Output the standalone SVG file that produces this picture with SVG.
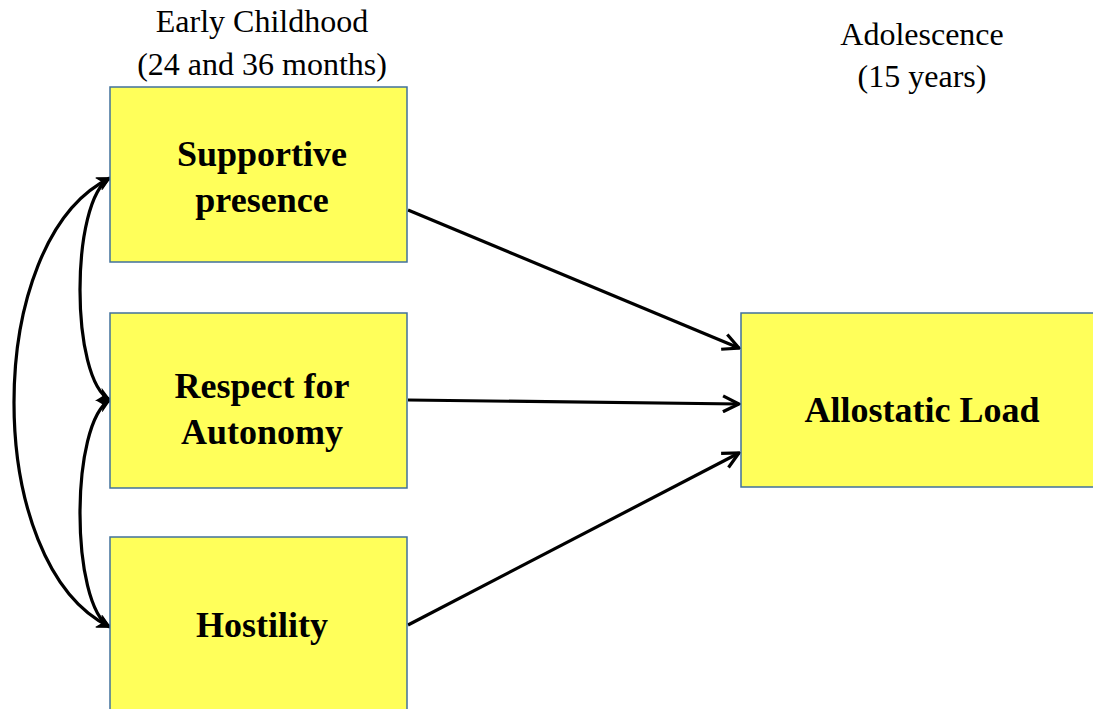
<svg xmlns="http://www.w3.org/2000/svg" width="1093" height="709" viewBox="0 0 1093 709">
<style>
.box{fill:#FFFF5A;stroke:#41719C;stroke-width:1.5}
.lbl{font-family:"Liberation Serif",serif;font-weight:bold;font-size:36px;fill:#000;text-anchor:middle}
.hdr{font-family:"Liberation Serif",serif;font-size:32px;fill:#000;text-anchor:middle}
.ln{fill:none;stroke:#000;stroke-width:3.2}
</style>
<defs>
<marker id="open" viewBox="0 0 12 12" refX="11" refY="6" markerWidth="6" markerHeight="6" orient="auto" markerUnits="strokeWidth">
<path d="M1,1 L11,6 L1,11" fill="none" stroke="#000" stroke-width="2"/>
</marker>
<marker id="solid" viewBox="0 0 10 10" refX="9" refY="5" markerWidth="4.5" markerHeight="4.5" orient="auto-start-reverse" markerUnits="strokeWidth">
<path d="M0,0 L10,5 L0,10 L3,5 Z" fill="#000"/>
</marker>
</defs>
<rect width="1093" height="709" fill="#fff"/>
<text class="hdr" x="262" y="32">Early Childhood</text>
<text class="hdr" x="262" y="75">(24 and 36 months)</text>
<text class="hdr" x="922" y="45">Adolescence</text>
<text class="hdr" x="922" y="87">(15 years)</text>
<g id="connectors">
<path class="ln" d="M408,210 L739,348" marker-end="url(#open)"/>
<path class="ln" d="M408,400 L739,404" marker-end="url(#open)"/>
<path class="ln" d="M408,625 L739,453" marker-end="url(#open)"/>
<path class="ln" d="M110,178 C70,200 70,380 110,400" marker-start="url(#solid)" marker-end="url(#solid)"/>
<path class="ln" d="M110,400 C70,422 70,605 110,627" marker-start="url(#solid)" marker-end="url(#solid)"/>
<path class="ln" d="M110,178 C-18,240 -18,565 110,627" marker-start="url(#solid)" marker-end="url(#solid)"/>
</g>
<g id="node-supportive">
<rect class="box" x="110" y="87" width="297" height="175"/>
<text class="lbl" x="262" y="166">Supportive</text>
<text class="lbl" x="262" y="212">presence</text>
</g>
<g id="node-respect">
<rect class="box" x="110" y="313" width="297" height="175"/>
<text class="lbl" x="262" y="398">Respect for</text>
<text class="lbl" x="262" y="444">Autonomy</text>
</g>
<g id="node-hostility">
<rect class="box" x="110" y="537" width="297" height="180"/>
<text class="lbl" x="262" y="637">Hostility</text>
</g>
<g id="node-allostatic">
<rect class="box" x="741" y="313" width="360" height="174"/>
<text class="lbl" x="922" y="422">Allostatic Load</text>
</g>
</svg>
